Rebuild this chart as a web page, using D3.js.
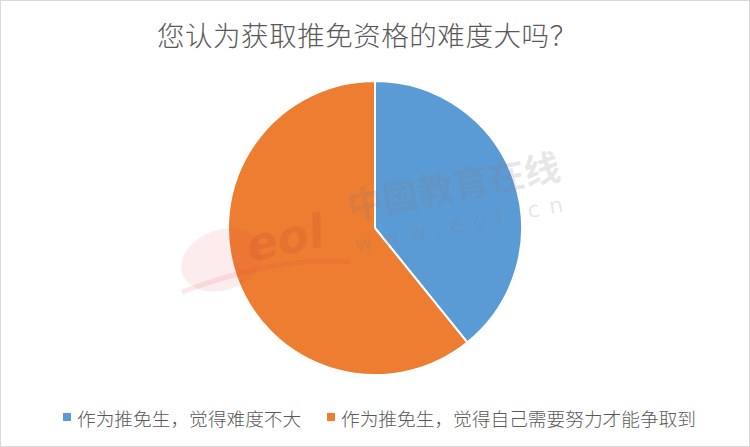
<!DOCTYPE html>
<html><head><meta charset="utf-8">
<script src="https://cdn.jsdelivr.net/npm/d3@7"></script>
<style>html,body{margin:0;padding:0;background:#fff;}svg{display:block;}</style>
</head><body>
<svg id="chart" width="750" height="447"></svg>
<script>
const title = "您认为获取推免资格的难度大吗？";
const categories = ["作为推免生，觉得难度不大", "作为推免生，觉得自己需要努力才能争取到"];
const values = [39.2, 60.8];
const colors = ["#5B9BD5", "#ED7D31"];
const watermarkCn = "中国教育在线";
const watermarkUrl = "www.eol.cn";
const watermarkLogo = "eol";

const W = 750, H = 447;
const svg = d3.select("#chart");
const font = "'Noto Sans CJK SC', 'Noto Sans', sans-serif";

svg.append("rect").attr("x",0.5).attr("y",0.5).attr("width",W-1).attr("height",H-1)
  .attr("fill","#fff").attr("stroke","#D9D9D9").attr("stroke-width",1);

svg.append("text").attr("x", 157).attr("y", 34)
  .attr("text-anchor","start").attr("dominant-baseline","central")
  .attr("font-family", font).attr("font-weight", 300).attr("font-size", 27.5).attr("fill","#595959")
  .attr("textLength", 420).attr("lengthAdjust","spacing")
  .text(title);

const cx = 375, cy = 228, r = 147;
const pie = d3.pie().sort(null).value(d => d)(values);
const arc = d3.arc().innerRadius(0).outerRadius(r);
const g = svg.append("g").attr("transform", `translate(${cx},${cy})`);
g.selectAll("path").data(pie).join("path")
  .attr("d", arc).attr("fill", (d,i) => colors[i])
  .attr("stroke", "#fff").attr("stroke-width", 2).attr("stroke-linejoin","round");

// watermark
const wm = svg.append("g").attr("pointer-events","none");
wm.append("text").attr("transform","translate(350,220) rotate(-11)")
  .attr("font-family", font).attr("font-weight","bold").attr("font-size", 36)
  .attr("fill","#808080").attr("fill-opacity",0.2).text(watermarkCn);
wm.append("text").attr("transform","translate(356,252) rotate(-11)")
  .attr("font-family","'DejaVu Sans', sans-serif").attr("font-size", 22)
  .attr("textLength", 212).attr("lengthAdjust","spacing")
  .attr("fill","#808080").attr("fill-opacity",0.2).text(watermarkUrl);
wm.append("ellipse").attr("cx",222).attr("cy",260).attr("rx",42).attr("ry",30)
  .attr("transform","rotate(-20,222,260)")
  .attr("fill","#E8434A").attr("fill-opacity",0.1);
wm.append("text").attr("transform","translate(250,262) rotate(-12)")
  .attr("font-family","'DejaVu Sans', sans-serif").attr("font-style","italic").attr("font-weight","bold")
  .attr("font-size", 46).attr("fill","#C0392B").attr("fill-opacity",0.16).text(watermarkLogo);
wm.append("path").attr("d","M182,292 Q280,255 350,262")
  .attr("fill","none").attr("stroke","#E8434A").attr("stroke-opacity",0.12).attr("stroke-width",5);

// legend
const lg = svg.append("g").attr("font-family", font).attr("font-weight", 300).attr("font-size", 18.7).attr("fill","#595959");
const lx = [63, 327];
categories.forEach((c,i) => {
  lg.append("rect").attr("x", lx[i]).attr("y", 413).attr("width",8).attr("height",8).attr("fill",colors[i]);
  lg.append("text").attr("x", lx[i]+14).attr("y", 417).attr("dominant-baseline","central").text(c);
});
</script>
</body></html>
